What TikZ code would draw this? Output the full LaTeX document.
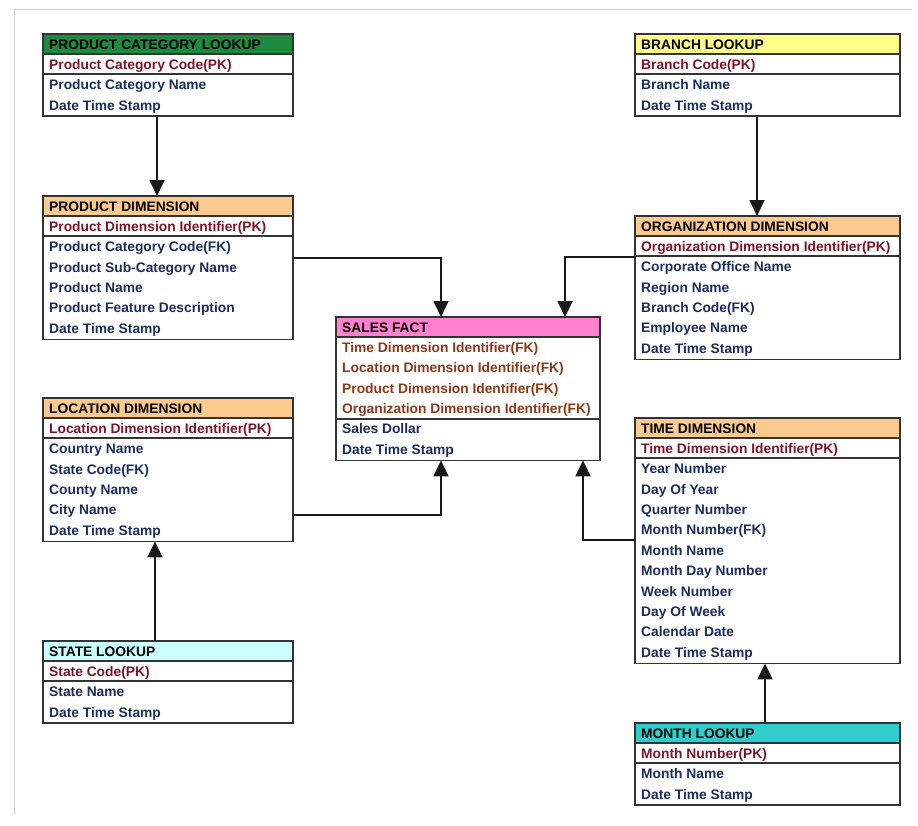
\documentclass[tikz,border=0pt]{standalone}
\usepackage{fontspec}
\setmainfont{Liberation Sans}
\usetikzlibrary{arrows.meta,calc}
\definecolor{hgreen}{HTML}{1E8A3E}
\definecolor{horange}{HTML}{FCC98E}
\definecolor{hpink}{HTML}{FF80CC}
\definecolor{hyellow}{HTML}{FFFF88}
\definecolor{hcyan}{HTML}{CCFFFF}
\definecolor{hteal}{HTML}{33CCCC}
\definecolor{pkred}{HTML}{7A1428}
\definecolor{fkbrown}{HTML}{8A3A18}
\definecolor{bodyblue}{HTML}{1C2C5C}
\definecolor{frame}{HTML}{333333}
\tikzset{
  tbox/.style={draw=frame, line width=1.5pt, inner sep=0pt, outer sep=0pt, rectangle},
  hdr/.style={inner sep=0pt, anchor=base west, font=\bfseries\fontsize{13.8}{14}\selectfont, text=black},
  rowtxt/.style={inner sep=0pt, anchor=base west, font=\bfseries\fontsize{13.8}{14}\selectfont},
  sepline/.style={draw=frame, line width=1.2pt},
  pksep/.style={draw=frame, line width=2pt},
  conn/.style={draw=black!90, line width=1.8pt, -{Triangle[width=15pt,length=16pt]}},
  outline/.style={draw=black!18, line width=1pt}
}
\newcommand\hh{20}
\newcommand\rh{20.4}
\newcommand\bl{5}
% #1 name, #2 x, #3 ytop, #4 width, #5 fill, #6 title, #7 pk color, #8 pk list, #9 body list
\newcommand\ertab[9]{%
  \foreach \t [count=\i] in {#8} {\xdef\npk{\i}}%
  \foreach \t [count=\i] in {#9} {\xdef\nbd{\i}}%
  \pgfmathsetmacro\ya{#3+\hh}%
  \pgfmathsetmacro\yb{\ya+\npk*\rh}%
  \pgfmathsetmacro\yc{\yb+\nbd*\rh+1}%
  \fill[#5] (#2,#3) rectangle (#2+#4,\ya);
  \node[tbox, minimum width=#4pt, minimum height={(\yc-#3)*1pt}, anchor=north west] (#1) at (#2,#3) {};
  \draw[sepline] (#2,\ya) -- (#2+#4,\ya);
  \draw[pksep] (#2,\yb) -- (#2+#4,\yb);
  \node[hdr] (#1-t) at (#2+6,{#3+\hh/2+\bl}) {#6};
  \foreach \t [count=\i] in {#8} {\node[rowtxt, text=#7] (#1-k\i) at (#2+6,{\ya+(\i-0.5)*\rh+\bl}) {\t};}
  \foreach \t [count=\i] in {#9} {\node[rowtxt, text=bodyblue] (#1-b\i) at (#2+6,{\yb+(\i-0.5)*\rh+\bl}) {\t};}
}
\begin{document}
\begin{tikzpicture}[x=1pt,y=-1pt]
\useasboundingbox (0,0) rectangle (918,825);
\fill[white] (0,0) rectangle (918,825);
\draw[outline] (14,815) -- (14,9) -- (912,9);

\ertab{pcl}{43}{34}{250}{hgreen}{PRODUCT CATEGORY LOOKUP}{pkred}{Product Category Code(PK)}{Product Category Name,Date Time Stamp}
\ertab{pd}{43}{196}{250}{horange}{PRODUCT DIMENSION}{pkred}{Product Dimension Identifier(PK)}{Product Category Code(FK),Product Sub-Category Name,Product Name,Product Feature Description,Date Time Stamp}
\ertab{sf}{336}{317}{264}{hpink}{SALES FACT}{fkbrown}{Time Dimension Identifier(FK),Location Dimension Identifier(FK),Product Dimension Identifier(FK),Organization Dimension Identifier(FK)}{Sales Dollar,Date Time Stamp}
\ertab{br}{635}{34}{265}{hyellow}{BRANCH LOOKUP}{pkred}{Branch Code(PK)}{Branch Name,Date Time Stamp}
\ertab{od}{635}{216}{265}{horange}{ORGANIZATION DIMENSION}{pkred}{Organization Dimension Identifier(PK)}{Corporate Office Name,Region Name,Branch Code(FK),Employee Name,Date Time Stamp}
\ertab{ld}{43}{398}{250}{horange}{LOCATION DIMENSION}{pkred}{Location Dimension Identifier(PK)}{Country Name,State Code(FK),County Name,City Name,Date Time Stamp}
\ertab{td}{635}{418}{265}{horange}{TIME DIMENSION}{pkred}{Time Dimension Identifier(PK)}{Year Number,Day Of Year,Quarter Number,Month Number(FK),Month Name,Month Day Number,Week Number,Day Of Week,Calendar Date,Date Time Stamp}
\ertab{sl}{43}{641}{250}{hcyan}{STATE LOOKUP}{pkred}{State Code(PK)}{State Name,Date Time Stamp}
\ertab{ml}{635}{723}{265}{hteal}{MONTH LOOKUP}{pkred}{Month Number(PK)}{Month Name,Date Time Stamp}

% connectors
\draw[conn] ($(pcl.south west)+(114,0)$) -- ($(pd.north west)+(114,0)$);
\draw[conn] ($(br.south west)+(122,0)$) -- ($(od.north west)+(122,0)$);
\draw[conn] ($(pd.north east)+(0,62)$) -| ($(sf.north west)+(105,0)$);
\draw[conn] ($(od.north west)+(0,41)$) -| ($(sf.north west)+(229,0)$);
\draw[conn] ($(ld.north east)+(0,117)$) -| ($(sf.south west)+(105,0)$);
\draw[conn] ($(td.north west)+(0,122)$) -| ($(sf.south west)+(247,0)$);
\draw[conn] ($(sl.north west)+(112,0)$) -- ($(ld.south west)+(112,0)$);
\draw[conn] ($(ml.north west)+(130,0)$) -- ($(td.south west)+(130,0)$);
\end{tikzpicture}
\end{document}
